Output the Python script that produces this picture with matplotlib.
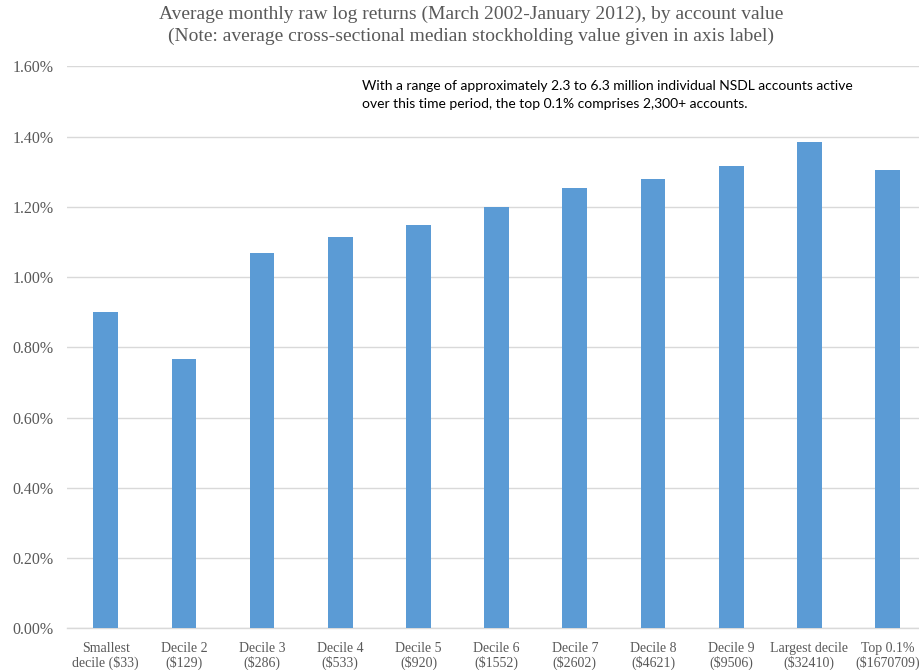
import matplotlib
matplotlib.use("Agg")
import matplotlib.pyplot as plt

# data (percent)
groups = ["Smallest\ndecile ($33)", "Decile 2\n($129)", "Decile 3\n($286)",
          "Decile 4\n($533)", "Decile 5\n($920)", "Decile 6\n($1552)",
          "Decile 7\n($2602)", "Decile 8\n($4621)", "Decile 9\n($9506)",
          "Largest decile\n($32410)", "Top 0.1%\n($1670709)"]
returns = [0.901, 0.766, 1.069, 1.115, 1.147, 1.200, 1.254, 1.279, 1.317, 1.384, 1.304]
yticks = [0.0, 0.2, 0.4, 0.6, 0.8, 1.0, 1.2, 1.4, 1.6]

title = ("Average monthly raw log returns (March 2002-January 2012), by account value\n"
         "(Note: average cross-sectional median stockholding value given in axis label)")
note = ("With a range of approximately 2.3 to 6.3 million individual NSDL accounts active\n"
        "over this time period, the top 0.1% comprises 2,300+ accounts.")

serif = ["Liberation Serif", "DejaVu Serif"]
plt.rcParams["font.family"] = serif
grey = "#595959"

fig = plt.figure(figsize=(9.19, 6.70), dpi=100)
# axes run a bit past the right edge, like the cropped original
ax = fig.add_axes([0.0725, 0.0622, 0.9358, 0.8388])

x = list(range(len(groups)))
ax.bar(x, returns, width=0.316, color="#5B9BD5", zorder=3)

ax.set_xlim(-0.5, len(groups) - 0.5)
ax.set_ylim(0, 1.6)
ax.set_yticks(yticks)
ax.set_yticklabels(["{:.2f}%".format(v) for v in yticks], family=serif,
                   fontsize=11.5, color=grey)
ax.grid(axis="y", color="#D9D9D9", linewidth=1, zorder=0)

for s in ["top", "left", "right"]:
    ax.spines[s].set_visible(False)
ax.spines["bottom"].set_color("#D9D9D9")
ax.spines["bottom"].set_linewidth(1)

ax.set_xticks(x)
ax.set_xticklabels(groups, family=serif, fontsize=10, color=grey, linespacing=1.1)
ax.tick_params(axis="x", length=0, pad=10)
ax.tick_params(axis="y", length=0, pad=9.5)

fig.text(471 / 919, 1 - 6 / 670, title, ha="center", va="top", fontsize=14,
         color=grey, linespacing=1.32)
fig.text(362 / 919, 1 - 94.5 / 670, note, ha="left", va="center", fontsize=10,
         family=["Lato", "DejaVu Sans"], color="black", linespacing=1.6)

fig.savefig("out.png", dpi=100)
